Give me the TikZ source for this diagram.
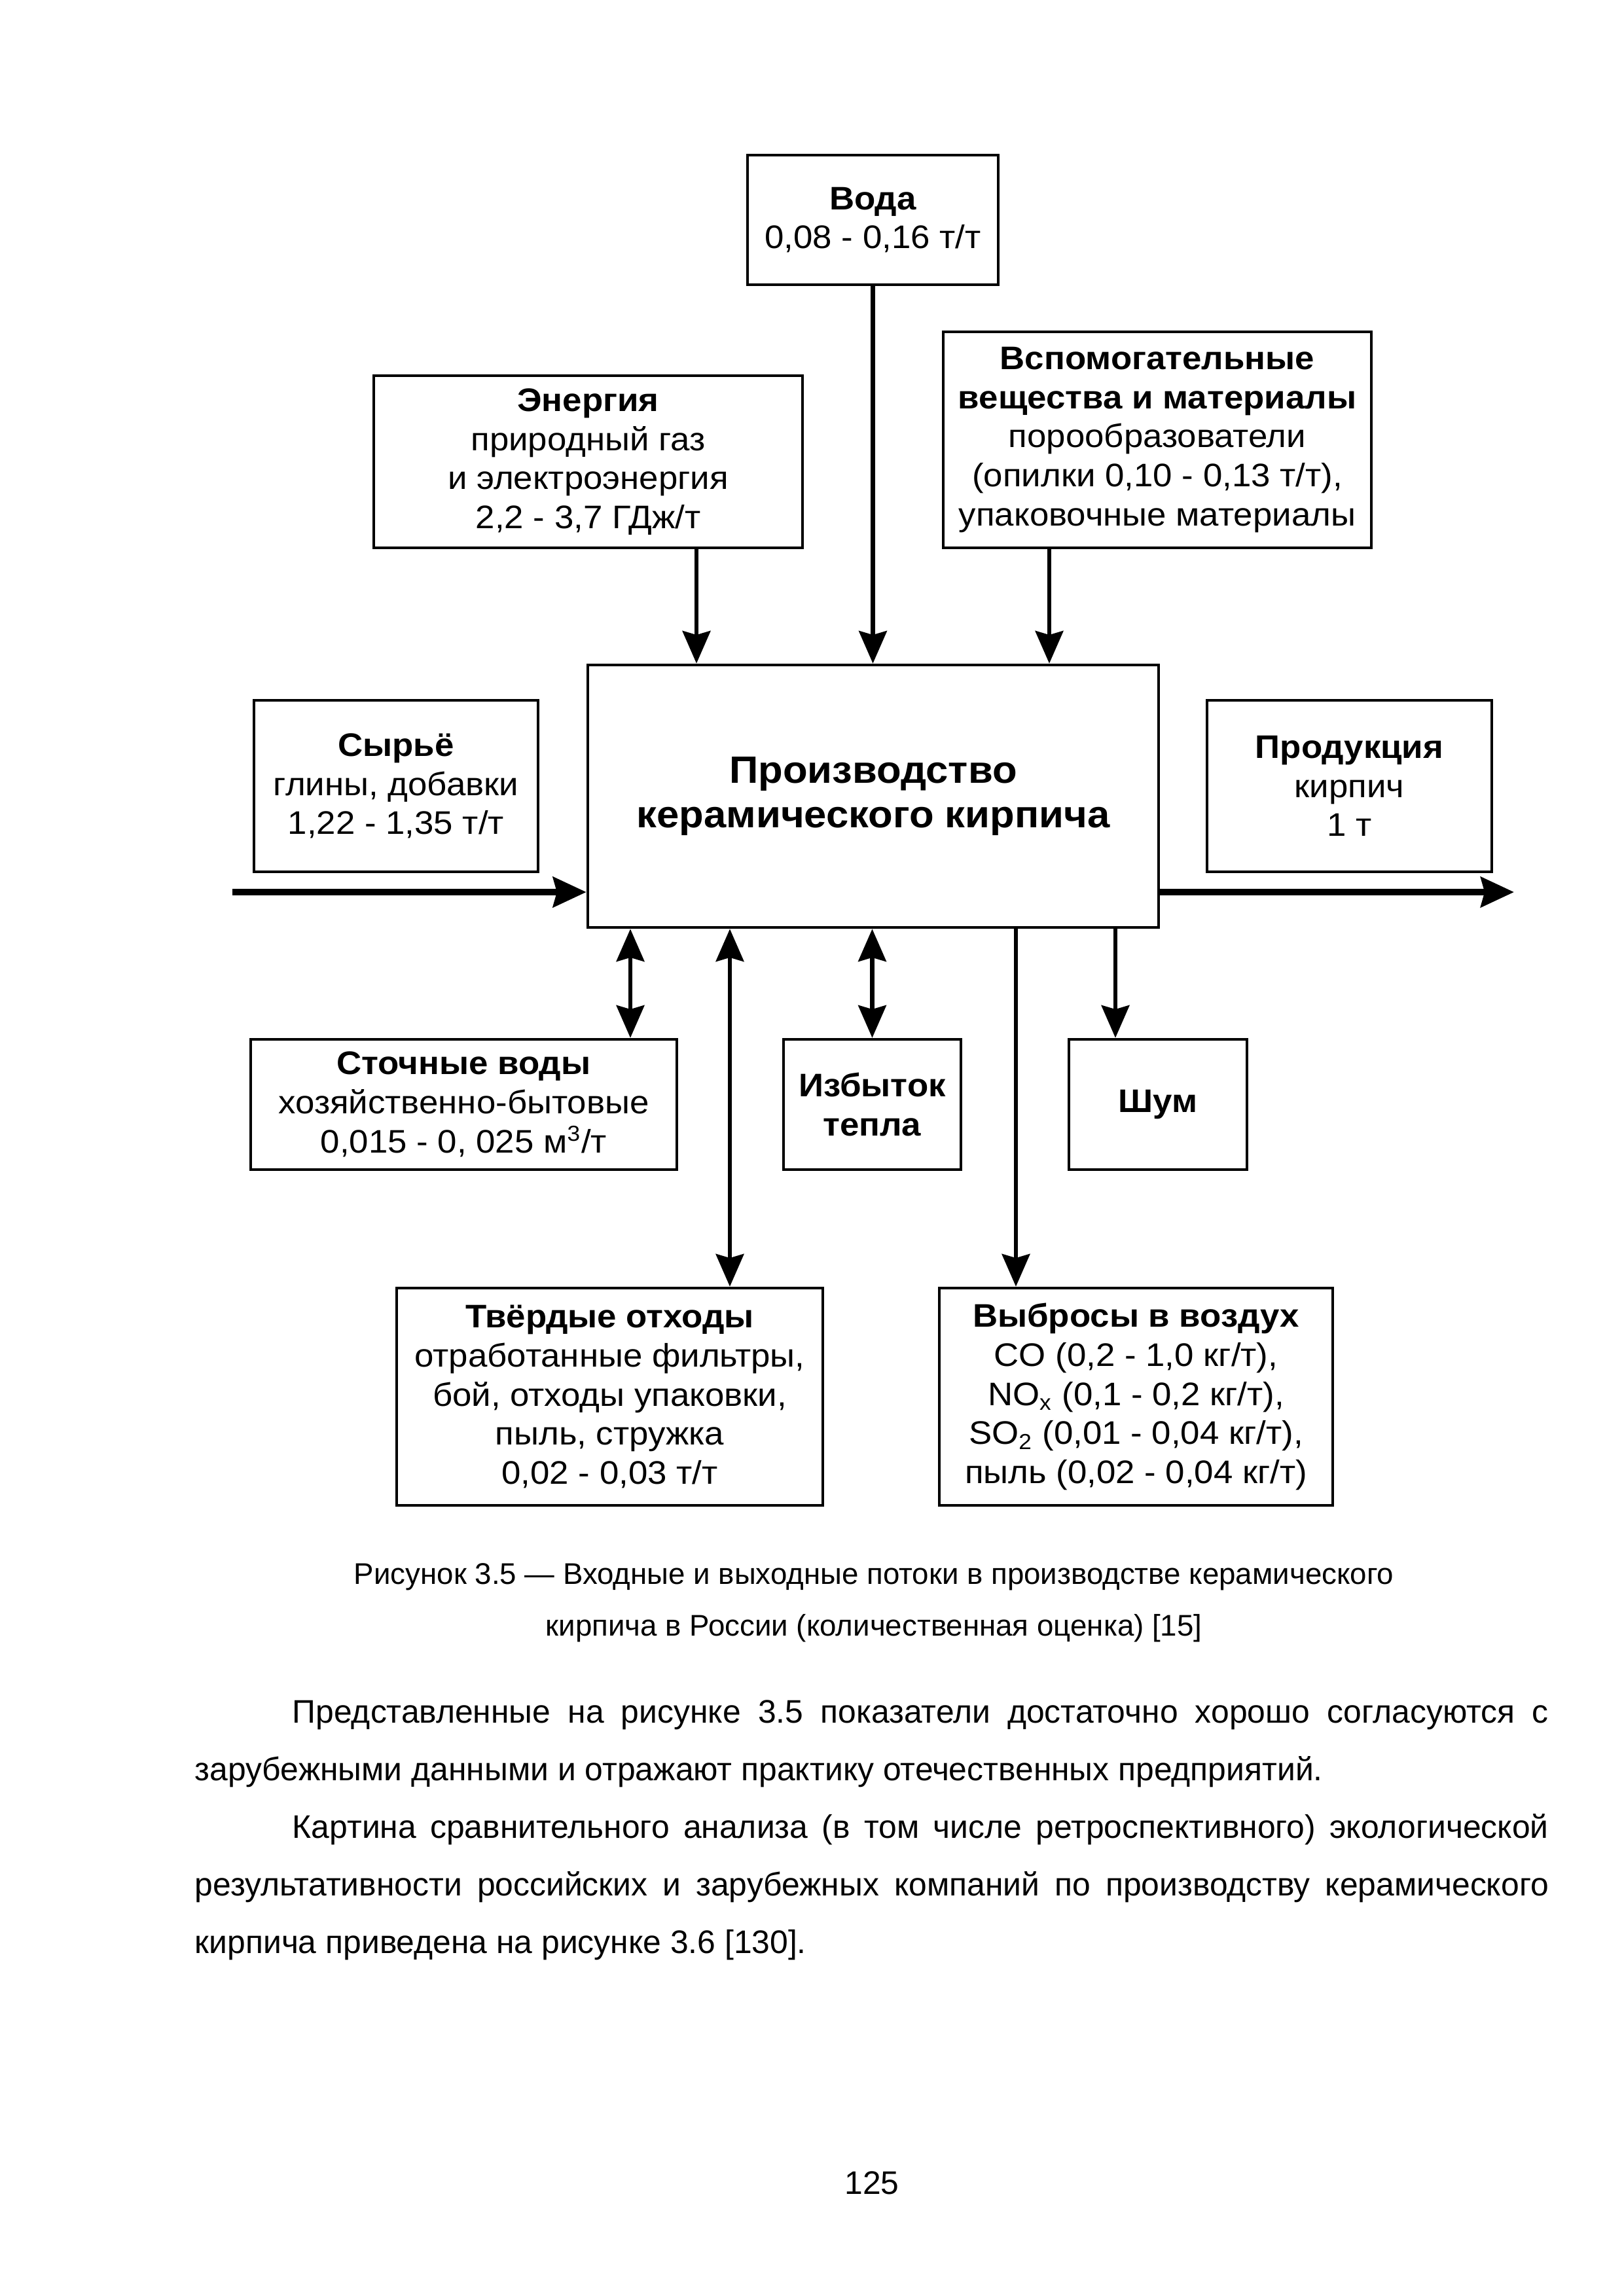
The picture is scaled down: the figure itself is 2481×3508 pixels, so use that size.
\documentclass[tikz,border=0pt]{standalone}
\usepackage{fontspec}
\setmainfont{Liberation Sans}
\newfontfamily\diagfont[FakeStretch=1.06]{Liberation Sans}
\usetikzlibrary{arrows.meta}
\newcommand\pxu{0.0846667mm}
\begin{document}
\begin{tikzpicture}[x=0.0846667mm, y=-0.0846667mm,
  box/.style={draw, line width=1.1pt, inner sep=0pt, align=center,
    font=\diagfont\fontsize{12}{14.4}\selectfont},
  mainbox/.style={box, font=\diagfont\fontsize{14}{16.2}\selectfont\bfseries},
  arr/.style={line width=1.6pt, -{Stealth[length=4.2mm, width=3.6mm, inset=0.5mm]}},
  darr/.style={line width=1.6pt, {Stealth[length=4.2mm, width=3.6mm, inset=0.5mm]}-{Stealth[length=4.2mm, width=3.6mm, inset=0.5mm]}},
  harr/.style={line width=2.3pt, -{Stealth[length=4.3mm, width=3.9mm, inset=0.5mm]}},
  txt/.style={inner sep=0pt, font=\fontsize{12}{14.4}\selectfont},
  captxt/.style={inner sep=0pt, font=\fontsize{11}{13.2}\selectfont},
  bodyline/.style={txt, anchor=base west}
]
\fill[white] (0,0) rectangle (2481,3508);
\useasboundingbox (0,0) rectangle (2481,3508);

% boxes
\node[box, minimum width=383*\pxu, minimum height=198*\pxu] (voda) at (1333.5,336)
  {\textbf{Вода}\\0,08 - 0,16 т/т};
\node[box, minimum width=655*\pxu, minimum height=263*\pxu] (energy) at (898.5,705.5)
  {\textbf{Энергия}\\природный газ\\и электроэнергия\\2,2 - 3,7 ГДж/т};
\node[box, minimum width=654*\pxu, minimum height=330*\pxu] (aux) at (1768,672)
  {\textbf{Вспомогательные}\\\textbf{вещества и материалы}\\порообразователи\\(опилки 0,10 - 0,13 т/т),\\упаковочные материалы};
\node[mainbox, minimum width=872*\pxu, minimum height=401*\pxu] (main) at (1334,1216.5)
  {Производство\\керамического кирпича};
\node[box, minimum width=434*\pxu, minimum height=262*\pxu] (raw) at (605,1201)
  {\textbf{Сырьё}\\глины, добавки\\1,22 - 1,35 т/т};
\node[box, minimum width=435*\pxu, minimum height=262*\pxu] (prod) at (2061.5,1201)
  {\textbf{Продукция}\\кирпич\\1 т};
\node[box, minimum width=651*\pxu, minimum height=199*\pxu] (wastew) at (708.5,1687.5)
  {\textbf{Сточные воды}\\хозяйственно-бытовые\\0,015 - 0, 025 м\textsuperscript{3}/т};
\node[box, minimum width=271*\pxu, minimum height=199*\pxu] (heat) at (1332.5,1687.5)
  {\textbf{Избыток}\\\textbf{тепла}};
\node[box, minimum width=272*\pxu, minimum height=199*\pxu] (noise) at (1769,1687.5)
  {\textbf{Шум}};
\node[box, minimum width=651*\pxu, minimum height=332*\pxu] (solid) at (931.5,2134)
  {\textbf{Твёрдые отходы}\\отработанные фильтры,\\бой, отходы упаковки,\\пыль, стружка\\0,02 - 0,03 т/т};
\node[box, minimum width=601*\pxu, minimum height=332*\pxu] (air) at (1735.5,2134)
  {\textbf{Выбросы в воздух}\\CO (0,2 - 1,0 кг/т),\\NO\textsubscript{x} (0,1 - 0,2 кг/т),\\SO\textsubscript{2} (0,01 - 0,04 кг/т),\\пыль (0,02 - 0,04 кг/т)};

% connector x positions
\coordinate (xe) at (1064,0);
\coordinate (xa) at (1603,0);
\coordinate (xw) at (963,0);
\coordinate (xs) at (1115,0);
\coordinate (xai) at (1552,0);
\coordinate (xn) at (1704,0);
\coordinate (inS) at (355,1363);
\coordinate (outE) at (2313,1363);

% inputs
\draw[arr] (energy.south -| xe) -- (main.north -| xe);
\draw[arr] (voda.south) -- (voda.south |- main.north);
\draw[arr] (aux.south -| xa) -- (main.north -| xa);
\draw[harr] (inS) -- (inS -| main.west);
\draw[harr] (main.east |- outE) -- (outE);

% outputs
\draw[darr] (main.south -| xw) -- (wastew.north -| xw);
\draw[darr] (main.south -| xs) -- (solid.north -| xs);
\draw[darr] (main.south -| heat.north) -- (heat.north);
\draw[arr] (main.south -| xai) -- (air.north -| xai);
\draw[arr] (main.south -| xn) -- (noise.north -| xn);

% caption
\node[captxt, anchor=base] (cap1) at (1335,2420)
  {Рисунок 3.5 — Входные и выходные потоки в производстве керамического};
\node[captxt, anchor=base] (cap2) at (1335,2499)
  {кирпича в России (количественная оценка) [15]};

% body text
\node[bodyline] (b1) at (446,2632)
  {\makebox[162.48mm][s]{Представленные на рисунке 3.5 показатели достаточно хорошо согласуются с}};
\node[bodyline] (b2) at (297,2720)
  {зарубежными данными и отражают практику отечественных предприятий.};
\node[bodyline] (b3) at (446,2808)
  {\makebox[162.48mm][s]{Картина сравнительного анализа (в том числе ретроспективного) экологической}};
\node[bodyline] (b4) at (297,2896)
  {\makebox[175.09mm][s]{результативности российских и зарубежных компаний по производству керамического}};
\node[bodyline] (b5) at (297,2984)
  {кирпича приведена на рисунке 3.6 [130].};

\node[txt, anchor=base] (page) at (1332,3352) {125};
\end{tikzpicture}
\end{document}
